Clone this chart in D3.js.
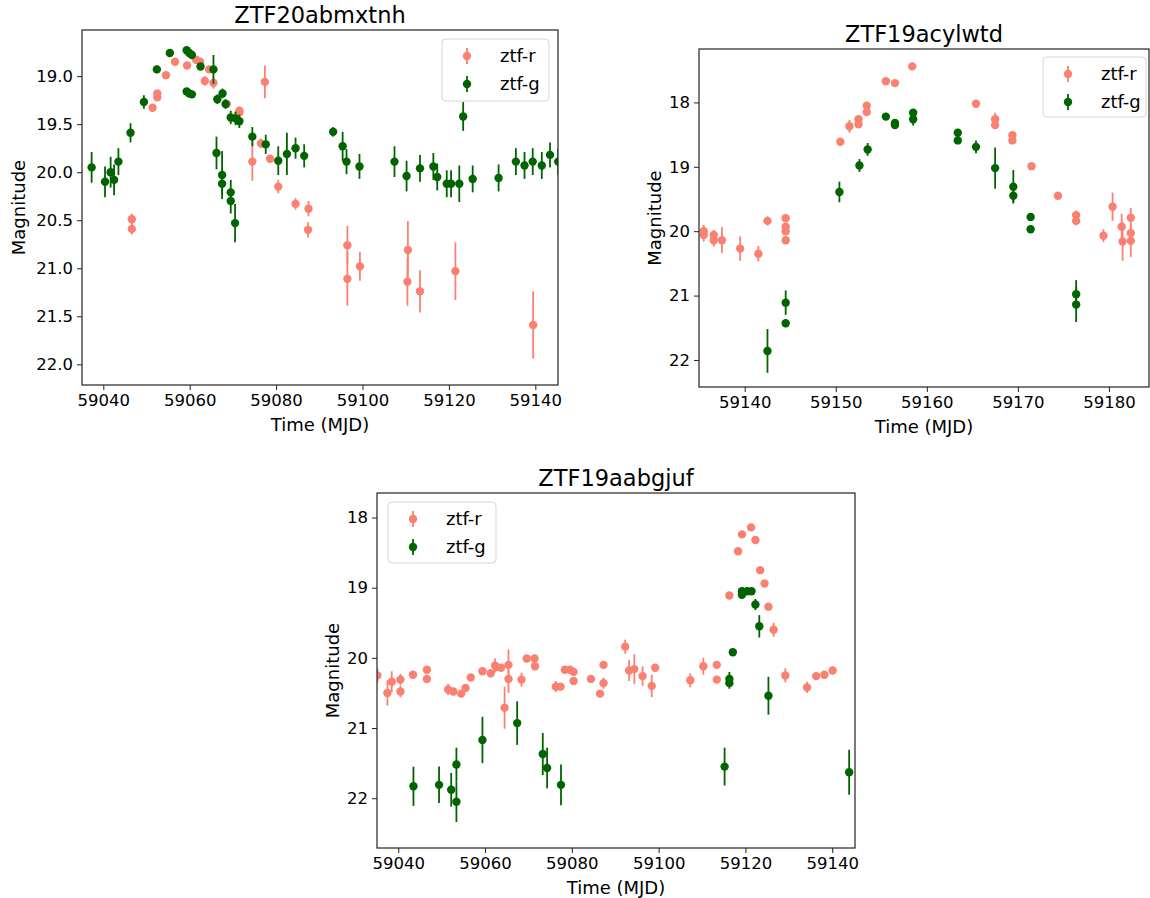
<!DOCTYPE html>
<html>
<head>
<meta charset="utf-8">
<script src="https://cdn.jsdelivr.net/npm/d3@7"></script>
<style>
  body { margin: 0; background: #fff; }
  svg text { font-family: "DejaVu Sans", sans-serif; fill: #000; }
</style>
</head>
<body>
<div id="chart"></div>
<script>
"use strict";

// ---- ZTF20abmxtnh ----
var p1rDay = [59046.6,59046.6,59051.4,59052.5,59052.5,59054.5,59056.6,59059.4,59061.5,59062.4,59063.5,59064.5,59065.5,59068.6,59071.5,59071.5,59074.5,59076.5,59077.4,59078.6,59080.5,59084.5,59087.5,59087.4,59096.5,59096.5,59099.4,59110.5,59110.4,59113.3,59121.5,59139.5];
var p1rMag = [20.49,20.59,19.33,19.18,19.22,18.99,18.85,18.89,18.83,18.85,19.05,18.93,19.07,19.29,19.36,19.38,19.89,19.70,19.06,19.86,20.15,20.33,20.38,20.60,20.76,21.11,20.98,20.81,21.14,21.24,21.03,21.59];
var p1rErr = [0.06,0.06,0.03,0.03,0.03,0.03,0.03,0.03,0.03,0.03,0.05,0.04,0.06,0.04,0.04,0.04,0.2,0.05,0.17,0.04,0.07,0.06,0.08,0.08,0.2,0.28,0.15,0.3,0.25,0.22,0.3,0.35];
var p1gDay = [59037.3,59040.4,59041.7,59042.5,59043.5,59046.3,59049.4,59052.4,59055.4,59059.3,59059.9,59060.5,59059.3,59059.9,59060.5,59062.5,59065.5,59066.4,59067.6,59068.3,59069.5,59070.6,59071.5,59066.2,59067.5,59067.5,59069.5,59069.5,59070.5,59074.5,59077.6,59080.5,59082.5,59084.5,59086.5,59093.2,59095.4,59096.3,59099.3,59107.4,59110.2,59113.3,59116.4,59117.3,59119.5,59120.5,59122.4,59123.3,59125.5,59131.5,59135.5,59137.5,59139.4,59141.5,59143.4,59145.3];
var p1gMag = [19.95,20.10,20.00,20.08,19.89,19.59,19.27,18.93,18.76,18.73,18.76,18.78,19.16,19.18,19.19,18.90,18.93,19.24,19.18,19.29,19.43,19.44,19.47,19.80,20.03,20.12,20.21,20.30,20.53,19.63,19.71,19.88,19.81,19.75,19.83,19.58,19.73,19.89,19.94,19.89,20.04,19.96,19.94,20.05,20.12,20.12,20.12,19.42,20.07,20.06,19.89,19.93,19.89,19.93,19.82,19.89];
var p1gErr = [0.16,0.16,0.16,0.16,0.14,0.10,0.07,0.04,0.03,0.03,0.03,0.03,0.03,0.03,0.03,0.03,0.15,0.05,0.05,0.05,0.07,0.07,0.07,0.17,0.25,0.10,0.13,0.13,0.20,0.10,0.10,0.15,0.22,0.11,0.12,0.05,0.15,0.13,0.13,0.16,0.16,0.14,0.14,0.14,0.14,0.14,0.19,0.15,0.14,0.14,0.14,0.14,0.14,0.14,0.13,0.14];

// ---- ZTF19acylwtd ----
var p2rDay = [59135.5,59135.5,59136.6,59136.6,59137.5,59139.5,59141.5,59142.5,59144.5,59144.5,59144.5,59144.5,59150.5,59151.5,59152.5,59152.5,59153.4,59153.4,59155.5,59156.5,59158.4,59165.4,59167.5,59167.5,59169.4,59169.4,59171.5,59174.4,59176.4,59176.4,59179.4,59180.4,59181.4,59181.5,59182.4,59182.4,59182.4];
var p2rMag = [20.00,20.06,20.06,20.14,20.14,20.27,20.35,19.84,19.80,19.93,20.00,20.14,18.61,18.37,18.26,18.34,18.05,18.15,17.67,17.70,17.44,18.02,18.26,18.35,18.51,18.59,18.99,19.45,19.75,19.84,20.07,19.62,19.93,20.16,19.79,20.03,20.15];
var p2rErr = [0.1,0.1,0.08,0.1,0.2,0.19,0.12,0.07,0.05,0.05,0.05,0.05,0.03,0.1,0.04,0.04,0.04,0.04,0.03,0.03,0.03,0.03,0.1,0.05,0.04,0.04,0.05,0.04,0.07,0.07,0.1,0.22,0.2,0.3,0.15,0.1,0.25];
var p2gDay = [59142.5,59144.5,59144.5,59150.4,59152.6,59153.5,59155.5,59156.5,59156.5,59158.5,59158.5,59163.4,59163.4,59165.4,59167.5,59169.5,59169.5,59171.4,59171.4,59176.4,59176.4];
var p2gMag = [21.86,21.11,21.43,19.39,18.98,18.73,18.22,18.32,18.35,18.16,18.26,18.47,18.59,18.69,19.02,19.31,19.45,19.78,19.97,20.98,21.14];
var p2gErr = [0.34,0.19,0.06,0.16,0.10,0.10,0.05,0.05,0.05,0.04,0.10,0.03,0.03,0.10,0.32,0.26,0.10,0.06,0.05,0.22,0.27];

// ---- ZTF19aabgjuf ----
var p3rDay = [59035.2,59037.5,59038.5,59040.5,59040.5,59043.4,59046.6,59046.6,59051.5,59052.7,59054.5,59055.5,59056.7,59059.4,59061.3,59062.3,59062.6,59063.7,59064.5,59065.4,59065.4,59068.4,59069.6,59071.4,59071.5,59076.3,59077.4,59078.4,59079.6,59080.4,59080.4,59084.4,59086.5,59087.3,59087.3,59092.3,59093.2,59094.4,59096.3,59098.4,59099.2,59107.3,59110.3,59113.4,59113.4,59116.3,59118.3,59119.2,59121.3,59122.3,59123.4,59124.4,59125.3,59126.5,59129.2,59134.2,59136.3,59138.2,59140.1];
var p3rMag = [20.25,20.50,20.34,20.31,20.48,20.24,20.17,20.30,20.45,20.48,20.51,20.43,20.28,20.19,20.22,20.11,20.13,20.14,20.71,20.10,20.30,20.31,20.01,20.01,20.12,20.41,20.41,20.17,20.17,20.20,20.33,20.30,20.51,20.36,20.10,19.84,20.18,20.16,20.26,20.40,20.14,20.32,20.12,20.10,20.31,19.11,18.48,18.24,18.14,18.32,18.75,18.94,19.27,19.60,20.25,20.42,20.26,20.24,20.18];
var p3rErr = [0.1,0.18,0.15,0.08,0.08,0.05,0.05,0.05,0.08,0.05,0.05,0.05,0.05,0.05,0.05,0.1,0.05,0.05,0.3,0.22,0.2,0.1,0.05,0.05,0.05,0.08,0.05,0.05,0.05,0.05,0.05,0.05,0.05,0.08,0.05,0.1,0.15,0.21,0.14,0.16,0.05,0.1,0.12,0.05,0.05,0.03,0.03,0.03,0.03,0.03,0.05,0.03,0.03,0.1,0.1,0.08,0.04,0.04,0.03];
var p3gDay = [59043.5,59049.4,59052.2,59053.4,59053.4,59059.4,59067.4,59073.3,59074.3,59077.5,59115.2,59116.3,59116.3,59117.1,59119.2,59119.2,59120.4,59121.4,59122.3,59123.2,59125.3,59143.9];
var p3gMag = [21.83,21.81,21.88,21.52,22.05,21.17,20.93,21.37,21.57,21.81,21.55,20.30,20.36,19.92,19.05,19.10,19.05,19.05,19.24,19.55,20.54,21.63];
var p3gErr = [0.28,0.26,0.24,0.24,0.29,0.33,0.31,0.30,0.29,0.29,0.27,0.10,0.08,0.05,0.05,0.05,0.04,0.04,0.08,0.16,0.27,0.32];

var bands = ["ztf-r", "ztf-g"];
var bandColors = ["#fa8072", "#006400"];

var xTicks1 = [59040, 59060, 59080, 59100, 59120, 59140];
var yTicks1 = [19.0, 19.5, 20.0, 20.5, 21.0, 21.5, 22.0];
var xTicks2 = [59140, 59150, 59160, 59170, 59180];
var yTicks2 = [18, 19, 20, 21, 22];
var xTicks3 = [59040, 59060, 59080, 59100, 59120, 59140];
var yTicks3 = [18, 19, 20, 21, 22];

function pts(days, mags, errs) {
  return days.map(function(d, i) { return {t: d, m: mags[i], e: errs[i]}; });
}

var svg = d3.select("#chart").append("svg")
  .attr("width", 1150)
  .attr("height", 898);

var panels = [
  {id: "p1", title: "ZTF20abmxtnh", left: 82, top: 30, w: 476, h: 355,
   xDom: [59035.07, 59145.25], yDom: [18.52, 22.215],
   xTicks: xTicks1, yTicks: yTicks1, yFmt: d3.format(".1f"), yLab: -57,
   series: [pts(p1rDay, p1rMag, p1rErr), pts(p1gDay, p1gMag, p1gErr)],
   legend: {x: 442, y: 39, w: 107, h: 62}},
  {id: "p2", title: "ZTF19acylwtd", left: 699, top: 49, w: 450, h: 338,
   xDom: [59134.98, 59184.4], yDom: [17.17, 22.42],
   xTicks: xTicks2, yTicks: yTicks2, yFmt: d3.format("d"), yLab: -38,
   series: [pts(p2rDay, p2rMag, p2rErr), pts(p2gDay, p2gMag, p2gErr)],
   legend: {x: 1043, y: 57, w: 103, h: 60}},
  {id: "p3", title: "ZTF19aabgjuf", left: 377, top: 493, w: 478, h: 355,
   xDom: [59035.1, 59145.25], yDom: [17.65, 22.71],
   xTicks: xTicks3, yTicks: yTicks3, yFmt: d3.format("d"), yLab: -38,
   series: [pts(p3rDay, p3rMag, p3rErr), pts(p3gDay, p3gMag, p3gErr)],
   legend: {x: 388, y: 502, w: 108, h: 61}}
];

panels.forEach(function(p) {
  var g = svg.append("g").attr("transform", "translate(" + p.left + "," + p.top + ")");

  var x = d3.scaleLinear().domain(p.xDom).range([0, p.w]);
  var y = d3.scaleLinear().domain(p.yDom).range([0, p.h]); // magnitudes: brighter at top

  g.append("clipPath").attr("id", "clip-" + p.id)
    .append("rect").attr("width", p.w).attr("height", p.h);

  var plot = g.append("g").attr("clip-path", "url(#clip-" + p.id + ")");

  p.series.forEach(function(data, si) {
    var s = plot.append("g").attr("fill", bandColors[si]).attr("stroke", bandColors[si]);
    s.selectAll("line.err")
      .data(data)
      .enter()
      .append("line")
      .attr("class", "err")
      .attr("x1", function(d) { return x(d.t); })
      .attr("x2", function(d) { return x(d.t); })
      .attr("y1", function(d) { return y(d.m - d.e); })
      .attr("y2", function(d) { return y(d.m + d.e); })
      .attr("stroke-width", 1.8);
    s.selectAll("circle")
      .data(data)
      .enter()
      .append("circle")
      .attr("cx", function(d) { return x(d.t); })
      .attr("cy", function(d) { return y(d.m); })
      .attr("r", 4.2)
      .attr("stroke", "none");
  });

  var xAxis = g.append("g")
    .attr("transform", "translate(0," + p.h + ")")
    .call(d3.axisBottom(x).tickValues(p.xTicks).tickFormat(d3.format("d")).tickSize(5).tickPadding(4));
  var yAxis = g.append("g")
    .call(d3.axisLeft(y).tickValues(p.yTicks).tickFormat(p.yFmt).tickSize(5).tickPadding(4));
  [xAxis, yAxis].forEach(function(a) {
    a.select(".domain").remove();
    a.selectAll("line").attr("stroke", "#222").attr("stroke-width", 1);
    a.selectAll("text").attr("font-size", "16.5px").attr("fill", "#000")
      .style("font-family", "'DejaVu Sans', sans-serif");
  });

  g.append("rect")
    .attr("width", p.w).attr("height", p.h)
    .attr("fill", "none").attr("stroke", "#222").attr("stroke-width", 1.2);

  g.append("text")
    .attr("x", p.w / 2).attr("y", -7)
    .attr("text-anchor", "middle")
    .attr("font-size", "22.5px")
    .text(p.title);

  g.append("text")
    .attr("x", p.w / 2).attr("y", p.h + 46)
    .attr("text-anchor", "middle")
    .attr("font-size", "18px")
    .text("Time (MJD)");

  g.append("text")
    .attr("transform", "translate(" + p.yLab + "," + (p.h / 2) + ") rotate(-90)")
    .attr("text-anchor", "middle")
    .attr("font-size", "18px")
    .text("Magnitude");

  // legend
  var L = p.legend;
  var lg = svg.append("g").attr("transform", "translate(" + L.x + "," + L.y + ")");
  lg.append("rect")
    .attr("width", L.w).attr("height", L.h)
    .attr("rx", 4).attr("ry", 4)
    .attr("fill", "#fff").attr("fill-opacity", 0.8)
    .attr("stroke", "#d5d5d5").attr("stroke-width", 1);
  bands.forEach(function(b, i) {
    var cy = 17 + i * 28;
    lg.append("line")
      .attr("x1", 25).attr("x2", 25)
      .attr("y1", cy - 8).attr("y2", cy + 8)
      .attr("stroke", bandColors[i]).attr("stroke-width", 1.8);
    lg.append("circle")
      .attr("cx", 25).attr("cy", cy).attr("r", 4.2)
      .attr("fill", bandColors[i]);
    lg.append("text")
      .attr("x", 58).attr("y", cy + 6)
      .attr("font-size", "18px")
      .text(b);
  });
});
</script>
</body>
</html>
